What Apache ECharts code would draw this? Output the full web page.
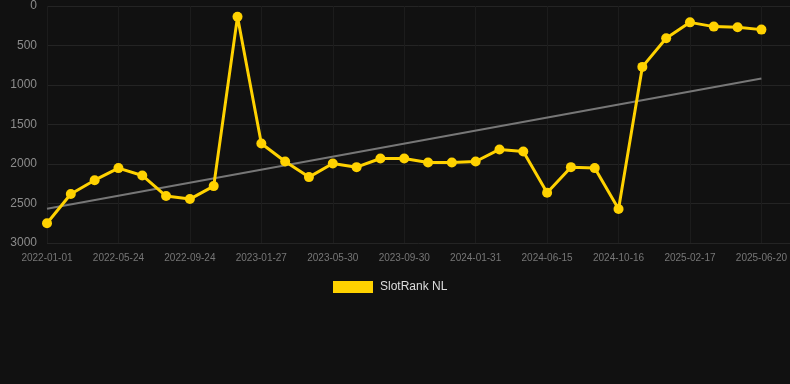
<!DOCTYPE html>
<html>
<head>
<meta charset="utf-8">
<script src="https://cdn.jsdelivr.net/npm/echarts@6/dist/echarts.min.js"></script>
<style>
  html, body { margin: 0; padding: 0; background: #111111; }
  #chart { width: 790px; height: 384px; }
</style>
</head>
<body>
<div id="chart"></div>
<script>
// Tick labels shown on the x axis (one every 3 data points)
const tickLabels = ['2022-01-01', '2022-05-24', '2022-09-24', '2023-01-27', '2023-05-30',
  '2023-09-30', '2024-01-31', '2024-06-15', '2024-10-16', '2025-02-17', '2025-06-20'];
const tickStep = 3;

// SlotRank NL rank values (31 points)
const rankValues = [2750, 2380, 2205, 2052, 2145, 2406, 2444, 2280, 135, 1741,
  1968, 2166, 1993, 2040, 1930, 1930, 1981, 1981, 1968, 1816,
  1842, 2364, 2040, 2052, 2570, 771, 409, 207, 261, 270, 299];

// Trend line end values
const trendValues = [2566, 919];

const seriesName = 'SlotRank NL';
const yTicks = [0, 500, 1000, 1500, 2000, 2500, 3000];

const lastIndex = rankValues.length - 1;
const lineData = rankValues.map((v, i) => [i, v]);
const trendData = [[0, trendValues[0]], [lastIndex, trendValues[1]]];

const chart = echarts.init(document.getElementById('chart'), null, { renderer: 'canvas' });
const font = "'Liberation Sans', Arial, sans-serif";

chart.setOption({
  backgroundColor: '#111111',
  animation: false,
  grid: { left: 47, right: 0, top: 6, bottom: 141, containLabel: false },
  legend: {
    data: [seriesName],
    left: 328,
    top: 276,
    itemWidth: 40,
    itemHeight: 12,
    itemGap: 10,
    icon: 'rect',
    textStyle: { color: '#dddddd', fontSize: 12, fontFamily: font, padding: [0, 0, 0, 2] }
  },
  xAxis: {
    type: 'value',
    min: 0,
    max: 31.2,
    interval: tickStep,
    axisLine: { show: false },
    axisTick: { show: false },
    axisLabel: {
      color: '#777777',
      fontSize: 10,
      fontFamily: font,
      margin: 10,
      showMaxLabel: false,
      formatter: function (v) {
        const k = Math.round(v / tickStep);
        if (Math.abs(v - k * tickStep) > 1e-6) return '';
        return tickLabels[k] || '';
      }
    },
    splitLine: { show: true, showMaxLine: false, lineStyle: { color: '#1c1c1c', width: 1 } }
  },
  yAxis: {
    type: 'value',
    inverse: true,
    min: yTicks[0],
    max: yTicks[yTicks.length - 1],
    interval: yTicks[1] - yTicks[0],
    axisLine: { show: false },
    axisTick: { show: false },
    axisLabel: {
      color: '#8c8c8c', fontSize: 12, fontFamily: font, margin: 10,
      formatter: function (v) { return String(v); }
    },
    splitLine: { show: true, lineStyle: { color: '#242424', width: 1 } }
  },
  series: [
    {
      name: seriesName,
      type: 'line',
      data: lineData,
      color: '#FFD200',
      symbol: 'circle',
      symbolSize: 10,
      lineStyle: { color: '#FFD200', width: 3 },
      itemStyle: { color: '#FFD200' },
      z: 3
    },
    {
      name: 'trend',
      type: 'line',
      data: trendData,
      symbol: 'none',
      lineStyle: { color: '#777777', width: 2 },
      z: 2
    }
  ]
});
</script>
</body>
</html>
